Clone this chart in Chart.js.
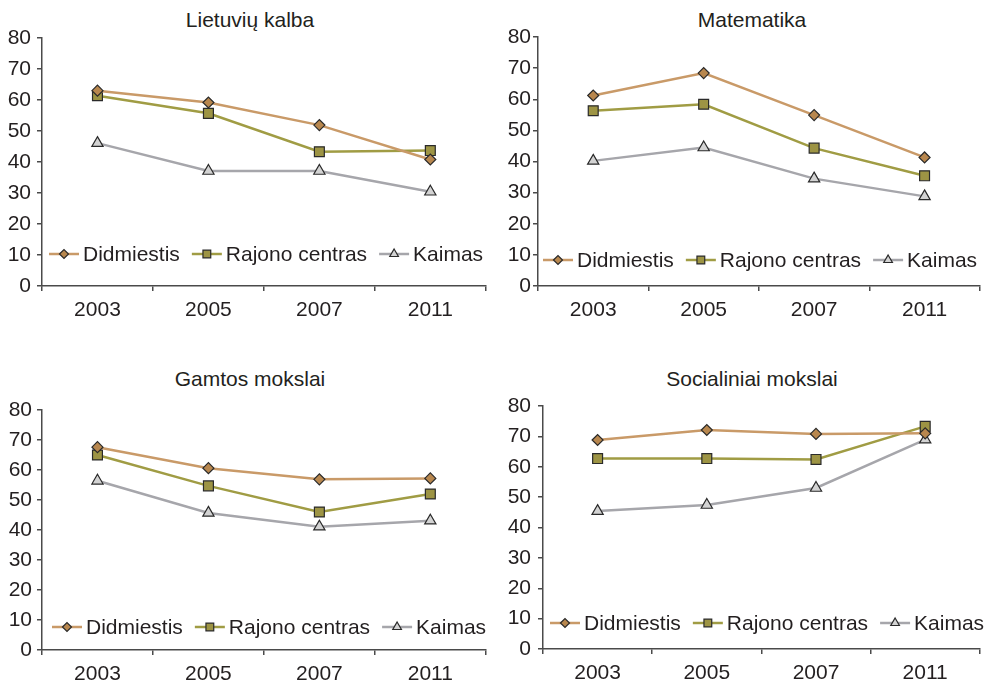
<!DOCTYPE html>
<html>
<head>
<meta charset="utf-8">
<script src="https://cdn.jsdelivr.net/npm/chart.js"></script>
<style>
  body { margin: 0; background: #fff; }
  #page { position: relative; width: 988px; height: 685px; overflow: hidden; font-family: "Liberation Sans", Arial, sans-serif; }
  canvas { position: absolute; }
  .title { position: absolute; width: 300px; text-align: center; font-size: 21px; line-height: 24px; color: #231f20; white-space: nowrap; }
</style>
</head>
<body>
<div id="page">
  <div class="title" style="left:100px; top:8px;">Lietuvių kalba</div>
  <div class="title" style="left:602px; top:8px;">Matematika</div>
  <div class="title" style="left:100px; top:367px;">Gamtos mokslai</div>
  <div class="title" style="left:602px; top:367px;">Socialiniai mokslai</div>
  <canvas id="c1" width="494" height="335" style="left:0; top:0;"></canvas>
  <canvas id="c2" width="494" height="335" style="left:494px; top:0;"></canvas>
  <canvas id="c3" width="494" height="345" style="left:0; top:340px;"></canvas>
  <canvas id="c4" width="494" height="345" style="left:494px; top:340px;"></canvas>
</div>
<script>
'use strict';

// categories and series names
const years = ['2003', '2005', '2007', '2011'];
const seriesNames = ['Didmiestis', 'Rajono centras', 'Kaimas'];
// y axis range
const yMin = 0;
const yMax = 80;
const yStep = 10;

// Lietuvių kalba
const lietDidmiestis = [63.0, 59.2, 51.9, 40.8];
const lietRajono = [61.4, 55.7, 43.3, 43.7];
const lietKaimas = [46.1, 37.1, 37.1, 30.4];

// Matematika
const matDidmiestis = [61.2, 68.4, 54.9, 41.3];
const matRajono = [56.3, 58.4, 44.3, 35.4];
const matKaimas = [40.2, 44.5, 34.5, 28.8];

// Gamtos mokslai
const gamDidmiestis = [67.6, 60.6, 56.9, 57.2];
const gamRajono = [65.0, 54.7, 46.0, 52.0];
const gamKaimas = [56.4, 45.7, 41.1, 43.1];

// Socialiniai mokslai
const socDidmiestis = [68.8, 72.1, 70.8, 71.0];
const socRajono = [62.7, 62.7, 62.4, 73.3];
const socKaimas = [45.4, 47.4, 53.0, 68.9];

const FONT = '"Liberation Sans", Arial, sans-serif';
const AXIS = '#4a4a4a';

// look of each series
const styles = [
  {line: '#c99a68', fill: '#b8874e', point: 'rectRot', r: 5.5, legendR: 4.5},
  {line: '#a09c44', fill: '#9d9444', point: 'rect', r: 7, legendR: 5.5},
  {line: '#a6a6ab', fill: '#d3d3d3', point: 'triangle', r: 6.5, legendR: 5}
];

// legend drawn inside the plot, one row near the x axis
const insideLegend = {
  id: 'insideLegend',
  afterDatasetsDraw(chart, args, opts) {
    const ctx = chart.ctx;
    let x = opts.x;
    const y = opts.y;
    ctx.save();
    ctx.font = '21px ' + FONT;
    ctx.textBaseline = 'middle';
    chart.data.datasets.forEach((ds, i) => {
      const st = styles[i];
      ctx.strokeStyle = st.line;
      ctx.lineWidth = 2.5;
      ctx.beginPath();
      ctx.moveTo(x, y);
      ctx.lineTo(x + 30, y);
      ctx.stroke();
      ctx.fillStyle = st.fill;
      ctx.strokeStyle = '#2a2a2a';
      ctx.lineWidth = 1.2;
      Chart.helpers.drawPoint(ctx, {pointStyle: st.point, radius: st.legendR, borderWidth: 1.2, rotation: 0}, x + 15, y);
      ctx.fillStyle = '#231f20';
      ctx.fillText(ds.label, x + 34, y + 1);
      x += 34 + ctx.measureText(ds.label).width + 12;
    });
    ctx.restore();
  }
};

function makeChart(id, seriesData, lay) {
  const datasets = seriesData.map((vals, i) => ({
    label: seriesNames[i],
    data: vals,
    borderColor: styles[i].line,
    borderWidth: 2.5,
    pointStyle: styles[i].point,
    pointRadius: styles[i].r,
    pointBackgroundColor: styles[i].fill,
    pointBorderColor: '#2a2a2a',
    pointBorderWidth: 1.2,
    tension: 0
  }));
  return new Chart(document.getElementById(id), {
    type: 'line',
    data: {labels: years, datasets: datasets},
    options: {
      responsive: false,
      animation: false,
      devicePixelRatio: 1,
      layout: {padding: {top: lay.top, right: lay.right, left: 0, bottom: 0}},
      plugins: {
        legend: {display: false},
        tooltip: {enabled: false},
        insideLegend: {x: lay.legX, y: lay.legY}
      },
      scales: {
        x: {
          offset: true,
          grid: {offset: true, drawOnChartArea: false, drawTicks: true, tickLength: 5, color: AXIS, lineWidth: 1.5},
          border: {color: AXIS, width: 1.5},
          ticks: {color: '#231f20', font: {size: 21, family: FONT}, padding: 7, maxRotation: 0},
          afterFit(scale) { scale.height = lay.xh; }
        },
        y: {
          min: yMin,
          max: yMax,
          grid: {drawOnChartArea: false, drawTicks: true, tickLength: 5, color: AXIS, lineWidth: 1.5},
          border: {color: AXIS, width: 1.5},
          ticks: {stepSize: yStep, color: '#231f20', font: {size: 21, family: FONT}, padding: lay.ypad},
          afterFit(scale) { scale.width = lay.yw; }
        }
      }
    },
    plugins: [insideLegend]
  });
}

makeChart('c1', [lietDidmiestis, lietRajono, lietKaimas], {top: 38, right: 2, xh: 49, yw: 42, ypad: 6, legX: 49, legY: 254});
makeChart('c2', [matDidmiestis, matRajono, matKaimas], {top: 37, right: 1, xh: 49, yw: 44, ypad: 2, legX: 49, legY: 260});
makeChart('c3', [gamDidmiestis, gamRajono, gamKaimas], {top: 70, right: 7, xh: 35, yw: 42, ypad: 5, legX: 52, legY: 287});
makeChart('c4', [socDidmiestis, socRajono, socKaimas], {top: 66, right: 1, xh: 36, yw: 49, ypad: 7, legX: 56, legY: 283});
</script>
</body>
</html>
